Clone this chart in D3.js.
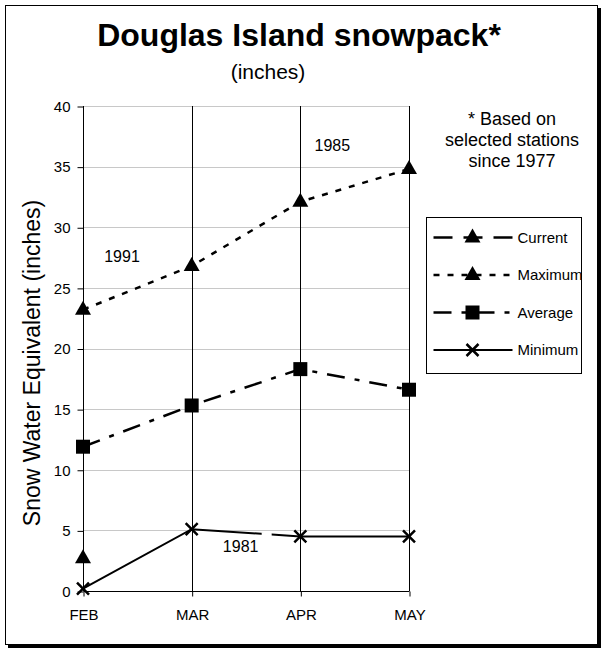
<!DOCTYPE html>
<html>
<head>
<meta charset="utf-8">
<script src="https://cdn.jsdelivr.net/npm/d3@7"></script>
<style>
  body { margin: 0; background: #fff; }
  text { font-family: Arial, "Liberation Sans", sans-serif; fill: #000; }
</style>
</head>
<body>
<script>
// data
const months = ['FEB', 'MAR', 'APR', 'MAY'];
const current = [2.7];
const maximum = [23.2, 26.8, 32.1, 34.8];
const average = [11.9, 15.3, 18.3, 16.6];
const minimum = [0.2, 5.1, 4.5, 4.5];
const yTicks = [0, 5, 10, 15, 20, 25, 30, 35, 40];
const seriesNames = ['Current', 'Maximum', 'Average', 'Minimum'];
const yearNotes = [
  {text: '1991', month: 'FEB', value: 27.1, dx: 39},
  {text: '1985', month: 'APR', value: 36.3, dx: 32},
  {text: '1981', month: 'MAR', value: 3.2, dx: 49}
];

let width = 603, height = 650;
let margin = {top: 106, bottom: 59, left: 83, right: 194};

let svg = d3.select('body')
            .append('svg')
            .attr('width', width)
            .attr('height', height);

// outer frame with shadow
svg.append('rect')
   .attr('x', 8).attr('y', 8)
   .attr('width', 593).attr('height', 640)
   .attr('fill', '#000');
svg.append('rect')
   .attr('x', 5.5).attr('y', 5.5)
   .attr('width', 592).attr('height', 639)
   .attr('fill', '#fff')
   .attr('stroke', '#000');

let xScale = d3.scalePoint()
              .domain(months)
              .range([margin.left, width - margin.right]);

let yScale = d3.scaleLinear()
              .domain([0, 40])
              .range([height - margin.bottom, margin.top]);

// horizontal gridlines
svg.append('g')
   .selectAll('line')
   .data(yTicks.slice(1))
   .enter()
   .append('line')
   .attr('x1', margin.left)
   .attr('x2', xScale('MAY'))
   .attr('y1', d => Math.round(yScale(d)) + 0.5)
   .attr('y2', d => Math.round(yScale(d)) + 0.5)
   .attr('stroke', '#c8c8c8');

// vertical lines at each month
svg.append('g')
   .selectAll('line')
   .data(months)
   .enter()
   .append('line')
   .attr('x1', d => Math.round(xScale(d)) + 0.5)
   .attr('x2', d => Math.round(xScale(d)) + 0.5)
   .attr('y1', yScale(0))
   .attr('y2', yScale(40))
   .attr('stroke', '#000');

// axes
let yAxis = svg.append('g')
   .attr('transform', `translate(${margin.left + 0.5}, 0.5)`)
   .call(d3.axisLeft(yScale).tickValues(yTicks).tickSize(6).tickPadding(7));
yAxis.select('.domain').remove();
yAxis.selectAll('text').style('font-size', '15px').style('font-family', 'Arial');

let xAxis = svg.append('g')
   .attr('transform', `translate(0.5, ${height - margin.bottom + 0.5})`)
   .call(d3.axisBottom(xScale).tickSize(5).tickPadding(13));
xAxis.select('.domain').attr('d', `M${margin.left},0H${xScale('MAY')}`);
xAxis.selectAll('text').style('font-size', '15px').style('font-family', 'Arial');

// line styles
let styles = {
  Current: {dash: '19,11', width: 2.5, marker: 'triangle'},
  Maximum: {dash: '6,8', width: 2.5, marker: 'triangle'},
  Average: {dash: '18,10,5,10', width: 2.5, marker: 'square'},
  Minimum: {dash: null, width: 2, marker: 'cross'}
};
let seriesData = {Current: current, Maximum: maximum, Average: average, Minimum: minimum};

let line = d3.line()
            .x((d, i) => xScale(months[i]))
            .y(d => yScale(d));

function drawMarker(g, type, x, y) {
  if (type === 'triangle') {
    g.append('path')
     .attr('d', `M${x},${y - 9}L${x + 8},${y + 5}L${x - 8},${y + 5}Z`)
     .attr('fill', '#000');
  } else if (type === 'square') {
    g.append('rect')
     .attr('x', x - 7).attr('y', y - 7)
     .attr('width', 14).attr('height', 14)
     .attr('fill', '#000');
  } else {
    g.append('path')
     .attr('d', `M${x - 6},${y - 6}L${x + 6},${y + 6}M${x + 6},${y - 6}L${x - 6},${y + 6}`)
     .attr('stroke', '#000')
     .attr('stroke-width', 2.5);
  }
}

let plot = svg.append('g');
seriesNames.forEach(name => {
  let vals = seriesData[name];
  let s = styles[name];
  if (vals.length > 1) {
    plot.append('path')
        .attr('d', line(vals))
        .attr('fill', 'none')
        .attr('stroke', '#000')
        .attr('stroke-width', s.width)
        .attr('stroke-dasharray', s.dash);
  }
});
seriesNames.forEach(name => {
  seriesData[name].forEach((v, i) => drawMarker(plot, styles[name].marker, xScale(months[i]), yScale(v)));
});

// year notes
yearNotes.forEach(n => {
  let x = xScale(n.month) + n.dx, y = yScale(n.value);
  if (n.text === '1981') {
    // label box cuts the minimum line
    svg.append('rect')
       .attr('x', x + 21).attr('y', y - 20)
       .attr('width', 10).attr('height', 22)
       .attr('fill', '#fff');
  }
  svg.append('text')
     .attr('x', x)
     .attr('y', y)
     .attr('text-anchor', 'middle')
     .style('font-size', '16px')
     .text(n.text);
});

// titles
svg.append('text')
   .attr('x', 299).attr('y', 46)
   .attr('text-anchor', 'middle')
   .style('font-size', '32px')
   .style('font-weight', 'bold')
   .text('Douglas Island snowpack*');

svg.append('text')
   .attr('x', 268).attr('y', 79)
   .attr('text-anchor', 'middle')
   .style('font-size', '21px')
   .text('(inches)');

svg.append('text')
   .attr('transform', `translate(40, 363) rotate(-90)`)
   .attr('text-anchor', 'middle')
   .style('font-size', '23px')
   .text('Snow Water Equivalent (inches)');

// footnote
['* Based on', 'selected stations', 'since 1977'].forEach((t, i) => {
  svg.append('text')
     .attr('x', 512).attr('y', 125 + i * 21)
     .attr('text-anchor', 'middle')
     .style('font-size', '18px')
     .text(t);
});

// legend
let legend = svg.append('g').attr('transform', 'translate(426.5, 217.5)');
legend.append('rect')
      .attr('width', 155).attr('height', 156)
      .attr('fill', '#fff')
      .attr('stroke', '#000');

seriesNames.forEach((name, i) => {
  let g = legend.append('g').attr('transform', `translate(0, ${20 + i * 37.5})`);
  let s = styles[name];
  g.append('line')
   .attr('x1', 7).attr('x2', 86)
   .attr('y1', 0).attr('y2', 0)
   .attr('stroke', '#000')
   .attr('stroke-width', s.width)
   .attr('stroke-dasharray', s.dash);
  drawMarker(g, s.marker, 46, 0);
  g.append('text')
   .attr('x', 91)
   .attr('y', 5)
   .style('font-size', '15px')
   .text(name);
});
</script>
</body>
</html>
